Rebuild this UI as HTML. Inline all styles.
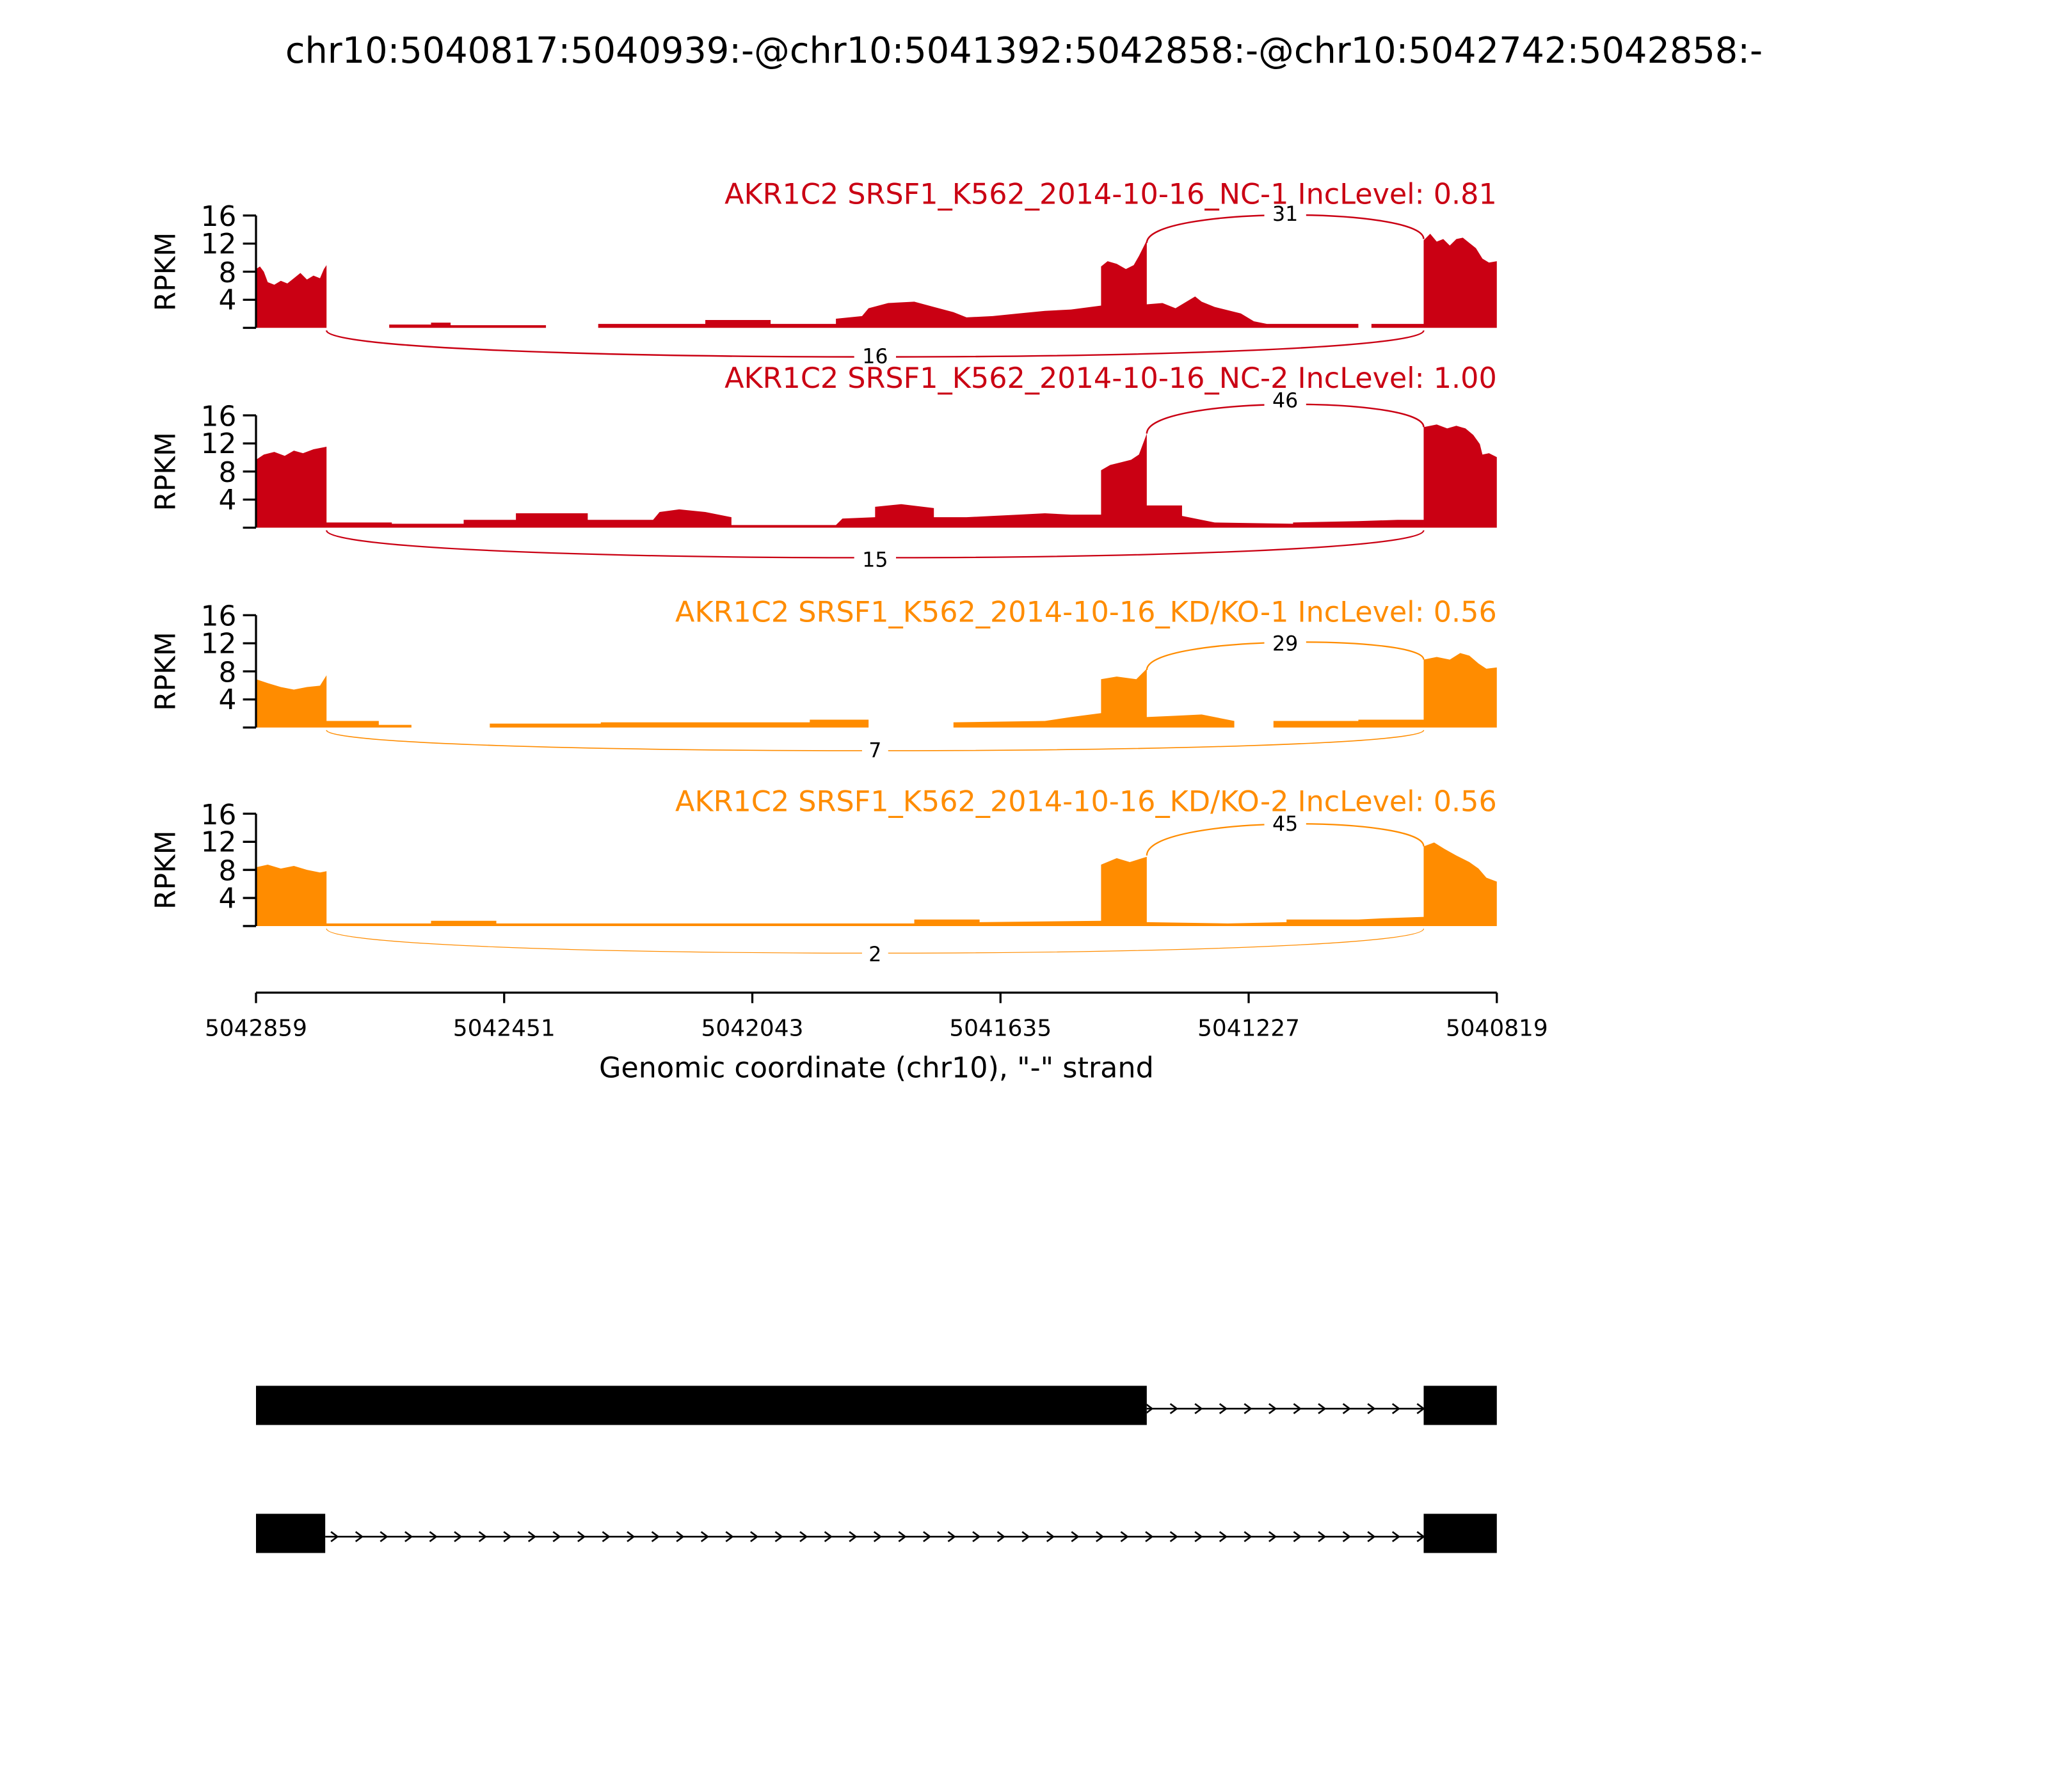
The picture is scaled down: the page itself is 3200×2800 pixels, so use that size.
<!DOCTYPE html>
<html><head><meta charset="utf-8"><style>html,body{margin:0;padding:0;background:#fff}svg{display:block}</style></head>
<body>
<svg xmlns="http://www.w3.org/2000/svg" width="3200" height="2800" viewBox="0 0 1568 1372" font-family="'DejaVu Sans','Liberation Sans',sans-serif">
<defs>
<pattern id="chev1" x="1090" y="0" width="18.9" height="1372" patternUnits="userSpaceOnUse">
<polyline points="13.9,1074.8 18.9,1078.5 13.9,1082.2" fill="none" stroke="#000" stroke-width="1.3"/>
</pattern>
</defs>
<rect width="1568" height="1372" fill="#fff"/>
<text x="784" y="48" font-size="27.3" text-anchor="middle">chr10:5040817:5040939:-@chr10:5041392:5042858:-@chr10:5042742:5042858:-</text>

<!-- Panel 1 -->
<g fill="#ca0013">
<path d="M196,251 L196,206 L199,204 L202,208 L205,216 L210,218 L215,215 L220,217 L225,213 L230,209 L235,214 L240,211 L245,213 L248,206 L250,203 L250,251 Z"/>
<path d="M298,251 L298,248.5 L330,248.5 L330,247 L345,247 L345,249 L418,249 L418,251 Z M458,251 L458,248 L540,248 L540,245 L590,245 L590,248 L640,248 L640,244 L660,242 L665,236 L680,232 L700,231 L715,235 L730,239 L740,243 L760,242 L780,240 L800,238 L820,237 L843,234 L843,204 L848,200 L855,202 L862,206 L868,203 L872,196 L878,184 L878,233 L890,232 L900,236 L910,230 L915,227 L920,231 L930,235 L950,240 L960,246 L970,248 L1040,248 L1040,251 Z M1050,251 L1050,248 L1090,248 L1090,251 Z"/>
<path d="M1090,251 L1090,184 L1095,179 L1100,185 L1105,183 L1110,188 L1115,183 L1120,182 L1125,186 L1130,190 L1135,198 L1140,201 L1146,200 L1146,251 Z"/>
</g>
<path d="M878,186 C878,158 1090,158 1090,183" fill="none" stroke="#ca0013" stroke-width="1.2"/>
<path d="M250,253 C250,280 1090,280 1090,253" fill="none" stroke="#ca0013" stroke-width="1.2"/>
<rect x="968" y="155" width="32" height="16" fill="#fff"/><text x="984" y="169" font-size="15.5" text-anchor="middle">31</text>
<rect x="654" y="264" width="32" height="16" fill="#fff"/><text x="670" y="278" font-size="15.5" text-anchor="middle">16</text>
<text x="1146" y="156" font-size="21.8" text-anchor="end" fill="#ca0013">AKR1C2 SRSF1_K562_2014-10-16_NC-1 IncLevel: 0.81</text>

<!-- Panel 2 -->
<g fill="#ca0013">
<path d="M196,404 L196,352 L202,348 L210,346 L218,349 L225,345 L232,347 L240,344 L250,342 L250,400 L300,400 L300,401 L355,401 L355,398 L395,398 L395,393 L450,393 L450,398 L500,398 L505,392 L520,390 L540,392 L560,396 L560,402 L640,402 L645,397 L670,396 L670,388 L690,386 L715,389 L715,396 L740,396 L760,395 L780,394 L800,393 L820,394 L843,394 L843,360 L850,356 L858,354 L866,352 L872,348 L878,332 L878,387 L905,387 L905,395 L930,400 L990,401 L990,400 L1040,399 L1070,398 L1090,398 L1090,404 Z"/>
<path d="M1090,404 L1090,327 L1100,325 L1108,328 L1115,326 L1122,328 L1128,333 L1133,340 L1135,348 L1140,347 L1146,350 L1146,404 Z"/>
</g>
<path d="M878,332 C878,303 1090,303 1090,327" fill="none" stroke="#ca0013" stroke-width="1.2"/>
<path d="M250,406 C250,434 1090,434 1090,406" fill="none" stroke="#ca0013" stroke-width="1.1"/>
<rect x="968" y="298" width="32" height="16" fill="#fff"/><text x="984" y="312" font-size="15.5" text-anchor="middle">46</text>
<rect x="654" y="420" width="32" height="16" fill="#fff"/><text x="670" y="434" font-size="15.5" text-anchor="middle">15</text>
<text x="1146" y="297" font-size="21.8" text-anchor="end" fill="#ca0013">AKR1C2 SRSF1_K562_2014-10-16_NC-2 IncLevel: 1.00</text>

<!-- Panel 3 -->
<g fill="#ff8c00">
<path d="M196,557 L196,520 L205,523 L215,526 L225,528 L235,526 L245,525 L250,517 L250,552 L290,552 L290,555 L315,555 L315,557 Z M375,557 L375,554 L460,554 L460,553 L620,553 L620,551 L665,551 L665,557 Z M730,557 L730,553 L800,552 L820,549 L843,546 L843,520 L855,518 L870,520 L878,512 L878,549 L900,548 L920,547 L945,552 L945,557 Z M975,557 L975,552 L1040,552 L1040,551 L1090,551 L1090,557 Z"/>
<path d="M1090,557 L1090,505 L1100,503 L1110,505 L1118,500 L1125,502 L1132,508 L1138,512 L1146,511 L1146,557 Z"/>
</g>
<path d="M878,513 C878,486 1090,486 1090,505" fill="none" stroke="#ff8c00" stroke-width="1.1"/>
<path d="M250,559 C250,580 1090,580 1090,559" fill="none" stroke="#ff8c00" stroke-width="0.8"/>
<rect x="968" y="484" width="32" height="16" fill="#fff"/><text x="984" y="498" font-size="15.5" text-anchor="middle">29</text>
<rect x="660" y="566" width="20" height="16" fill="#fff"/><text x="670" y="580" font-size="15.5" text-anchor="middle">7</text>
<text x="1146" y="476" font-size="21.8" text-anchor="end" fill="#ff8c00">AKR1C2 SRSF1_K562_2014-10-16_KD/KO-1 IncLevel: 0.56</text>

<!-- Panel 4 -->
<g fill="#ff8c00">
<path d="M196,709 L196,664 L205,662 L215,665 L225,663 L235,666 L245,668 L250,667 L250,707 L330,707 L330,705 L380,705 L380,707 L700,707 L700,704 L750,704 L750,706 L843,705 L843,662 L855,657 L865,660 L878,656 L878,706 L940,707 L985,706 L985,704 L1040,704 L1060,703 L1090,702 L1090,709 Z"/>
<path d="M1090,709 L1090,648 L1098,645 L1106,650 L1115,655 L1125,660 L1132,665 L1138,672 L1146,675 L1146,709 Z"/>
</g>
<path d="M878,655 C878,624 1090,624 1090,648" fill="none" stroke="#ff8c00" stroke-width="1.1"/>
<path d="M250,711 C250,736 1090,736 1090,711" fill="none" stroke="#ff8c00" stroke-width="0.6"/>
<rect x="968" y="622" width="32" height="16" fill="#fff"/><text x="984" y="636" font-size="15.5" text-anchor="middle">45</text>
<rect x="660" y="722" width="20" height="16" fill="#fff"/><text x="670" y="736" font-size="15.5" text-anchor="middle">2</text>
<text x="1146" y="621" font-size="21.8" text-anchor="end" fill="#ff8c00">AKR1C2 SRSF1_K562_2014-10-16_KD/KO-2 IncLevel: 0.56</text>

<!-- Y axes -->
<g stroke="#000" stroke-width="1.6" fill="none">
<path d="M196,165 V251 M186,165 H196 M186,186.5 H196 M186,208 H196 M186,229.5 H196 M186,251 H196"/>
<path d="M196,318 V404 M186,318 H196 M186,339.5 H196 M186,361 H196 M186,382.5 H196 M186,404 H196"/>
<path d="M196,471 V557 M186,471 H196 M186,492.5 H196 M186,514 H196 M186,535.5 H196 M186,557 H196"/>
<path d="M196,623 V709 M186,623 H196 M186,644.5 H196 M186,666 H196 M186,687.5 H196 M186,709 H196"/>
</g>
<g font-size="21.5" text-anchor="end">
<text x="181" y="173">16</text><text x="181" y="194">12</text><text x="181" y="216">8</text><text x="181" y="237">4</text>
<text x="181" y="326">16</text><text x="181" y="347">12</text><text x="181" y="369">8</text><text x="181" y="390">4</text>
<text x="181" y="479">16</text><text x="181" y="500">12</text><text x="181" y="522">8</text><text x="181" y="543">4</text>
<text x="181" y="631">16</text><text x="181" y="652">12</text><text x="181" y="674">8</text><text x="181" y="695">4</text>
</g>
<g font-size="21.5" text-anchor="middle">
<text transform="translate(134,208) rotate(-90)">RPKM</text>
<text transform="translate(134,361) rotate(-90)">RPKM</text>
<text transform="translate(134,514) rotate(-90)">RPKM</text>
<text transform="translate(134,666) rotate(-90)">RPKM</text>
</g>

<!-- X axis -->
<g stroke="#000" stroke-width="1.6">
<path d="M196,760 H1146 M196,760 V768 M386,760 V768 M576,760 V768 M766,760 V768 M956,760 V768 M1146,760 V768"/>
</g>
<g font-size="17.6" text-anchor="middle">
<text x="196" y="793">5042859</text><text x="386" y="793">5042451</text><text x="576" y="793">5042043</text>
<text x="766" y="793">5041635</text><text x="956" y="793">5041227</text><text x="1146" y="793">5040819</text>
</g>
<text x="671" y="825" font-size="21.8" text-anchor="middle">Genomic coordinate (chr10), "-" strand</text>

<!-- Gene models -->
<line x1="878" y1="1078.5" x2="1090" y2="1078.5" stroke="#000" stroke-width="1.3"/>
<rect x="878" y="1070" width="212" height="16" fill="url(#chev1)"/>
<rect x="196" y="1061" width="682" height="30" fill="#000"/>
<rect x="1090" y="1061" width="56" height="30" fill="#000"/>

<g transform="translate(0,98)">
<line x1="249" y1="1078.5" x2="1090" y2="1078.5" stroke="#000" stroke-width="1.3"/>
<rect x="249" y="1070" width="841" height="16" fill="url(#chev1)"/>
<rect x="196" y="1061" width="53" height="30" fill="#000"/>
<rect x="1090" y="1061" width="56" height="30" fill="#000"/>
</g>
</svg>
</body></html>
